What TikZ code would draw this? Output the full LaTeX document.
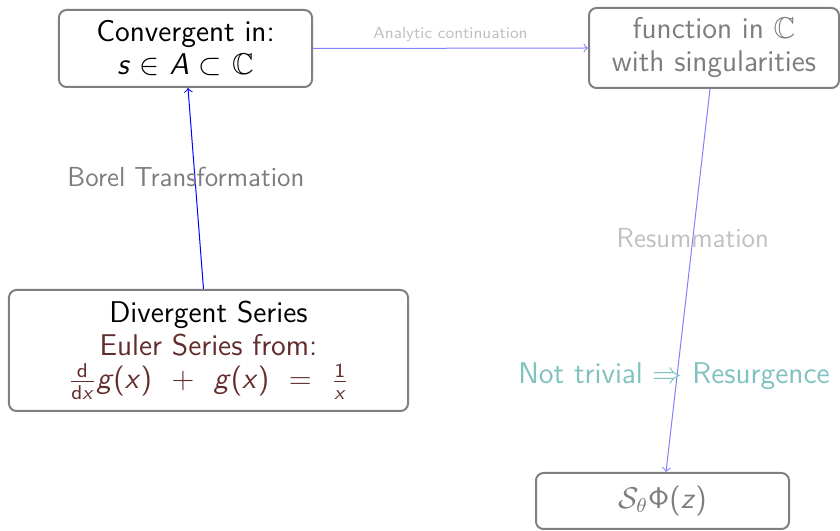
\documentclass[tikz,border=0pt]{standalone}
\usepackage{amsmath,amssymb}
\definecolor{boxgray}{RGB}{128,128,128}
\definecolor{txtgray}{RGB}{125,125,125}
\definecolor{lightgray2}{RGB}{192,192,192}
\definecolor{eulerbrown}{RGB}{98,44,44}
\definecolor{tealtxt}{RGB}{128,194,190}
\definecolor{lightblue}{RGB}{128,128,255}
\begin{document}
\begin{tikzpicture}[x=0.4pt,y=-0.4pt,
  box/.style={draw=boxgray, line width=0.8pt, rounded corners=3pt, align=center, inner sep=0pt,
    font=\sffamily\fontsize{12}{13.2}\selectfont},
  lbl/.style={font=\sffamily\fontsize{11}{13}\selectfont, inner sep=0pt},
  conn/.style={->, line width=0.4pt}]
\useasboundingbox (0,0) rectangle (840,531);
\node[box, minimum width=101.2pt, minimum height=30.8pt] (b1) at (185.5,48.5)
  {Convergent in:\\ \textit{s} $\in$ \textit{A} $\subset$ $\mathbb{C}$};
\node[box, minimum width=100pt, minimum height=32pt, text=txtgray] (b2) at (714,48)
  {function in $\mathbb{C}$\\ with singularities};
\node[box, minimum width=159.6pt, minimum height=48.4pt] (b3) at (208.5,350.5)
  {Divergent Series\\ \textcolor{eulerbrown}{Euler Series from:}\\
   \textcolor{eulerbrown}{$\frac{\textsf{d}}{\textsf{d}\textsf{\textit{x}}}$\textit{g}(\textit{x})~~+~~\textit{g}(\textit{x})~~=~~$\frac{\textsf{1}}{\textsf{\textit{x}}}$}};
\node[box, minimum width=101.2pt, minimum height=22.4pt, text=txtgray] (b4) at (662.5,501)
  {$\mathcal{S}_\theta\mathsf{\Phi}$(\textit{z})};
\draw[conn, draw=lightblue] (b1.east) -- (b2.west)
  node[midway, yshift=5.6pt, font=\sffamily\fontsize{6.5}{7}\selectfont, text=lightgray2] {Analytic continuation};
\draw[conn, draw=blue] ([xshift=-2pt]b3.north) -- ([xshift=1pt]b1.south)
  node[lbl, pos=0.557, xshift=-3.6pt, text=txtgray] {Borel Transformation};
\draw[conn, draw=lightblue] ([xshift=-1.6pt]b2.south) -- ([xshift=1.4pt]b4.north)
  node[lbl, pos=0.39, text=lightgray2] {Resummation}
  node[lbl, pos=0.75, xshift=-1.2pt, text=tealtxt, font=\sffamily\fontsize{12}{14}\selectfont] {Not trivial $\Rightarrow$ Resurgence};
\end{tikzpicture}
\end{document}
